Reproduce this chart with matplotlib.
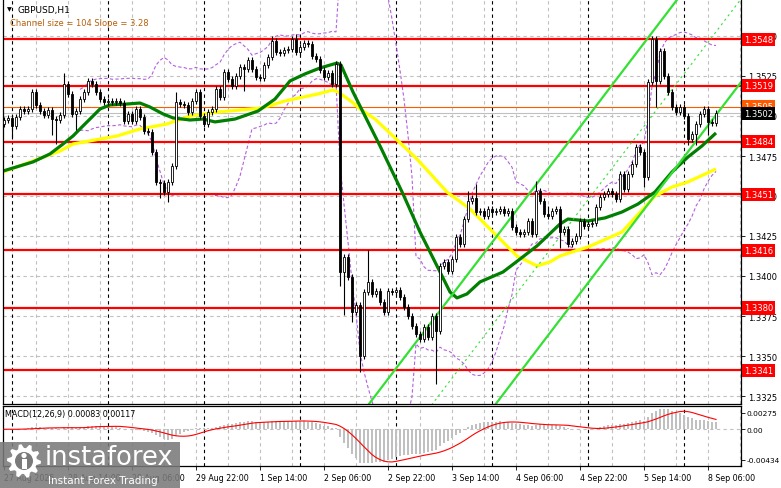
import numpy as np
import pandas as pd
import matplotlib
matplotlib.use("Agg")
import matplotlib.pyplot as plt
import matplotlib.transforms as mtransforms
from matplotlib.patches import Rectangle, Polygon, Circle

W, H = 781, 489

# bar index 0 = 28 Aug 00:00, one bar per hour (H1); first bar is 27 Aug 22:00
first_bar = -2
first_open = 1.34950
close = [
    1.34975, 1.34988, 1.34938, 1.34994, 1.35044, 1.35031, 1.35044, 1.35150, 1.35069, 1.35031,
    1.35006, 1.35038, 1.34981, 1.34975, 1.35006, 1.35200, 1.35138, 1.35013, 1.35031, 1.35106,
    1.35150, 1.35219, 1.35200, 1.35150, 1.35106, 1.35088, 1.35094, 1.35088, 1.35094, 1.35081,
    1.34969, 1.35013, 1.34969, 1.35044, 1.34994, 1.34906, 1.34900, 1.34775, 1.34588, 1.34580,
    1.34525, 1.34588, 1.34688, 1.35088, 1.35075, 1.35069, 1.35025, 1.35094, 1.35150, 1.35000,
    1.34950, 1.35025, 1.35044, 1.35169, 1.35119, 1.35275, 1.35231, 1.35188, 1.35250, 1.35306,
    1.35294, 1.35350, 1.35294, 1.35244, 1.35238, 1.35319, 1.35369, 1.35469, 1.35400, 1.35394,
    1.35413, 1.35419, 1.35481, 1.35400, 1.35431, 1.35456, 1.35450, 1.35375, 1.35356, 1.35288,
    1.35244, 1.35269, 1.35200, 1.35325, 1.34025, 1.34119, 1.33994, 1.33775, 1.33819, 1.33500,
    1.33900, 1.33963, 1.33888, 1.33906, 1.33838, 1.33775, 1.33906, 1.33900, 1.33910, 1.33869,
    1.33806, 1.33750, 1.33688, 1.33638, 1.33606, 1.33681, 1.33619, 1.33750, 1.33656, 1.34063,
    1.34088, 1.34031, 1.34106, 1.34244, 1.34200, 1.34356, 1.34469, 1.34488, 1.34400, 1.34406,
    1.34375, 1.34419, 1.34400, 1.34405, 1.34419, 1.34394, 1.34406, 1.34306, 1.34275, 1.34263,
    1.34275, 1.34344, 1.34263, 1.34531, 1.34469, 1.34388, 1.34375, 1.34406, 1.34419, 1.34275,
    1.34294, 1.34200, 1.34219, 1.34250, 1.34344, 1.34313, 1.34325, 1.34331, 1.34431, 1.34494,
    1.34513, 1.34531, 1.34513, 1.34481, 1.34638, 1.34544, 1.34638, 1.34700, 1.34806, 1.34775,
    1.34619, 1.35213, 1.35481, 1.35219, 1.35406, 1.35250, 1.35150, 1.35056, 1.35025, 1.35056,
    1.35000, 1.34856, 1.34888, 1.34950, 1.35013, 1.35044, 1.34963, 1.34956, 1.35019,
]
# wick lengths beyond the body, in pips
up_wick = [
    2, 2, 2, 2, 2, 2, 2, 2, 2, 2,   2, 2, 2, 2, 2, 7, 2, 2, 2, 2,
    2, 2, 2, 2, 2, 2, 2, 2, 2, 2,   2, 2, 2, 2, 2, 2, 2, 2, 2, 2,
    2, 2, 2, 6, 2, 2, 2, 2, 2, 2,   2, 2, 2, 2, 2, 2, 2, 2, 2, 2,
    2, 2, 2, 2, 2, 2, 2, 3, 2, 2,   2, 2, 2, 3, 2, 2, 2, 2, 2, 2,
    2, 2, 2, 2, 2, 2, 2, 2, 2, 2,   2, 20, 2, 2, 2, 2, 2, 2, 2, 2,
    2, 2, 2, 2, 2, 2, 2, 2, 2, 2,   2, 2, 2, 2, 2, 2, 6, 2, 9, 2,
    2, 2, 2, 2, 2, 2, 2, 2, 2, 2,   2, 2, 2, 6, 2, 2, 5, 2, 2, 2,
    2, 2, 2, 2, 2, 2, 2, 2, 2, 2,   2, 2, 2, 2, 2, 2, 2, 2, 2, 2,
    2, 2, 2, 2, 2, 2, 2, 2, 2, 2,   2, 2, 2, 2, 2, 2, 2, 2, 2,
]
dn_wick = [
    2, 2, 8, 2, 2, 2, 2, 2, 2, 2,   2, 2, 10, 15, 2, 2, 2, 2, 10, 2,
    2, 2, 2, 2, 2, 2, 2, 2, 2, 2,   2, 2, 2, 2, 2, 2, 2, 2, 2, 9,
    2, 6, 2, 2, 2, 2, 2, 2, 2, 2,   2, 2, 2, 2, 2, 2, 2, 2, 2, 2,
    14, 2, 2, 2, 2, 2, 2, 2, 2, 2,  2, 2, 2, 2, 2, 2, 2, 2, 2, 2,
    2, 2, 2, 2, 9, 27, 2, 6, 2, 10, 2, 2, 2, 2, 2, 2, 2, 2, 2, 2,
    2, 2, 2, 2, 2, 2, 2, 2, 33, 2,  2, 2, 2, 2, 2, 2, 2, 2, 2, 2,
    2, 2, 2, 2, 2, 2, 2, 2, 2, 2,   2, 2, 2, 2, 2, 2, 2, 2, 2, 10,
    2, 2, 2, 2, 2, 2, 2, 2, 2, 2,   2, 2, 2, 2, 2, 2, 2, 2, 2, 2,
    6, 2, 2, 16, 2, 2, 2, 2, 2, 2,  2, 4, 2, 7, 2, 2, 8, 2, 2,
]

# moving averages (bar index, price)
green_k = [-2.25, 5.25, 9.5, 12.75, 15.25, 17.75, 20.25, 22, 24.5, 28.75, 32, 34.5, 37.75,
           40.25, 44.5, 47.75, 50.75, 55.75, 61.5, 65.75, 69.5, 73.25, 77, 81.25, 82.25,
           85.25, 88.25, 92, 97.75, 102, 106.25, 109.5, 111.25, 113.75, 117, 122.75, 127,
           131.25, 137, 139, 144, 148.25, 152.5, 156.5, 160.75, 165, 169, 172.5, 176]
green_p = [1.34656, 1.34713, 1.34763, 1.34825, 1.34875, 1.34938, 1.35000, 1.35044, 1.35069,
           1.35075, 1.35081, 1.35056, 1.35013, 1.34988, 1.34975, 1.34981, 1.34963, 1.34981,
           1.35031, 1.35106, 1.35219, 1.35263, 1.35300, 1.35331, 1.35319, 1.35150, 1.35000,
           1.34813, 1.34513, 1.34275, 1.34063, 1.33900, 1.33863, 1.33888, 1.33963, 1.34025,
           1.34106, 1.34188, 1.34325, 1.34356, 1.34344, 1.34363, 1.34400, 1.34450, 1.34525,
           1.34650, 1.34744, 1.34813, 1.34894]
yellow_k = [-2.25, 5.25, 12, 15.25, 22, 26.25, 32, 38.75, 44.5, 51.5, 62.5, 68.25, 76.5,
            80.25, 81.5, 85, 87, 90.75, 95.25, 101.25, 108.75, 114.5, 121.25, 126.25,
            131.25, 134.5, 137, 140.75, 144, 152.5, 160.75, 165, 169, 176]
yellow_p = [1.34650, 1.34719, 1.34781, 1.34825, 1.34856, 1.34875, 1.34919, 1.34950, 1.35000,
            1.35025, 1.35050, 1.35094, 1.35138, 1.35163, 1.35150, 1.35088, 1.35044, 1.34981,
            1.34875, 1.34731, 1.34525, 1.34419, 1.34250, 1.34125, 1.34063, 1.34088, 1.34125,
            1.34156, 1.34181, 1.34275, 1.34500, 1.34556, 1.34588, 1.34669]

levels = [1.3548, 1.3519, 1.3484, 1.3451, 1.3416, 1.3380, 1.3341]
ask_price = 1.3505
bid_price = 1.3502
price_ticks = [1.3325, 1.3350, 1.3375, 1.3400, 1.3425, 1.3450, 1.3475, 1.3500, 1.3525, 1.3550]
macd_max, macd_min = 0.00275, -0.00434

# regression channel: size and slope in pips, anchored on the upper line
chan_size = 104
chan_slope = 3.28
chan_anchor_k = 126
chan_anchor_upper = 1.34406
chan_from, chan_to = 80, 190

time_k = [-2, 14, 30, 46, 62, 78, 94, 110, 126, 142, 158, 174]
time_labels = ["27 Aug 2025", "28 Aug 14:00", "29 Aug 06:00", "29 Aug 22:00", "1 Sep 14:00",
               "2 Sep 06:00", "2 Sep 22:00", "3 Sep 14:00", "4 Sep 06:00", "4 Sep 22:00",
               "5 Sep 14:00", "8 Sep 06:00"]
day_k = [0, 24, 48, 72, 96, 120, 144, 168]

# ---- derived series
c = np.array(close)
o = np.concatenate([[first_open], c[:-1]])
k = np.arange(first_bar, first_bar + len(c))
hi = np.maximum(o, c) + np.array(up_wick) * 0.0001
lo = np.minimum(o, c) - np.array(dn_wick) * 0.0001

s = pd.Series(c)
bb_mid = s.rolling(20).mean()
bb_std = s.rolling(20).std(ddof=0)
bb_up = bb_mid + 2 * bb_std
bb_dn = bb_mid - 2 * bb_std

macd = s.ewm(span=12, adjust=False).mean() - s.ewm(span=26, adjust=False).mean()
signal = macd.rolling(9, min_periods=1).mean()

# ---- figure
fig = plt.figure(figsize=(W / 100, H / 100), dpi=100)
fig.patch.set_facecolor("white")
plt.rcParams["font.family"] = "DejaVu Sans"


def box(x0, y0, x1, y1):
    return [x0 / W, 1 - y1 / H, (x1 - x0) / W, (y1 - y0) / H]


ax = fig.add_axes(box(3, 0, 741, 405))
axm = fig.add_axes(box(3, 407, 741, 467), sharex=ax)

grid_col = "#c0c0c0"
dash = (0, (3, 3))
for a in (ax, axm):
    for gk in np.arange(6, 184, 8):
        a.axvline(gk, color=grid_col, lw=0.8, ls=dash, zorder=0)
    for dk in day_k:
        a.axvline(dk, color="black", lw=0.8, ls=dash, zorder=0.5)
for pt in price_ticks:
    ax.axhline(pt, color=grid_col, lw=0.8, ls=dash, zorder=0)
axm.axhline(0, color=grid_col, lw=0.8, ls=dash, zorder=0)

# bands
ax.plot(k, bb_up, color="#b45fe0", lw=0.8, ls=(0, (3, 2)), zorder=1)
ax.plot(k, bb_dn, color="#b45fe0", lw=0.8, ls=(0, (3, 2)), zorder=1)

# levels
for lv in levels:
    ax.axhline(lv, color="#ff0000", lw=1.6, zorder=1.5)
ax.axhline(ask_price + 0.00006, color="#ff5a00", lw=0.8, zorder=1.4)
ax.axhline(bid_price, color="#c0c0c0", lw=0.8, zorder=1.4)

# moving averages
ax.plot(yellow_k, yellow_p, color="#ffff00", lw=2.3, zorder=2, solid_capstyle="butt")
ax.plot(green_k, green_p, color="#007f00", lw=2.3, zorder=2.1, solid_capstyle="butt")

# regression channel
ck = np.array([chan_from, chan_to])
upper = chan_anchor_upper + (ck - chan_anchor_k) * chan_slope * 0.0001
lower = upper - chan_size * 0.0001
mid = upper - chan_size * 0.0001 / 2
ax.plot(ck, upper, color="#33e033", lw=1.6, zorder=2.2)
ax.plot(ck, lower, color="#33e033", lw=1.6, zorder=2.2)
ax.plot(ck, mid, color="#33e033", lw=0.8, ls=(0, (2, 3)), zorder=2.2)

# candles
bull = c >= o
ax.vlines(k, lo, hi, color="black", lw=0.8, zorder=3)
body_h = np.maximum(np.abs(c - o), 0.00002)
ax.bar(k[bull], body_h[bull], bottom=np.minimum(o, c)[bull], width=0.72,
       color="white", edgecolor="black", lw=0.6, zorder=4)
ax.bar(k[~bull], body_h[~bull], bottom=np.minimum(o, c)[~bull], width=0.72,
       color="black", edgecolor="black", lw=0.6, zorder=4)

ax.set_xlim(-2.25, 182.25)
ax.set_ylim(1.3320, 1.3573125)
ax.yaxis.tick_right()
ax.set_yticks(price_ticks)
ax.set_yticklabels([f"{p:.4f}" for p in price_ticks])
ax.tick_params(axis="y", length=3, pad=2, labelsize=6, width=0.6)
ax.tick_params(axis="x", length=0, labelbottom=False)
ax.spines["top"].set_visible(False)
for sp in ("left", "right", "bottom"):
    ax.spines[sp].set_linewidth(0.9)

tr = mtransforms.blended_transform_factory(ax.transAxes, ax.transData)
for lv in levels:
    ax.text(1.004, lv, f"{lv:.4f}", transform=tr, ha="left", va="center", fontsize=6,
            color="white", clip_on=False, zorder=10,
            bbox=dict(boxstyle="square,pad=0.25", fc="#ff0000", ec="none"))
ax.text(1.004, ask_price + 0.00010, f"{ask_price:.4f}", transform=tr, ha="left", va="center",
        fontsize=6, color="white", clip_on=False, zorder=10,
        bbox=dict(boxstyle="square,pad=0.25", fc="#ff5a00", ec="none"))
ax.text(1.004, bid_price - 0.00005, f"{bid_price:.4f}", transform=tr, ha="left", va="center",
        fontsize=6, color="white", clip_on=False, zorder=11,
        bbox=dict(boxstyle="square,pad=0.25", fc="black", ec="none"))

# MACD: window scaled between its max and min, labels sit just inside the edges
axm.bar(k, macd, width=0.6, color="#c0c0c0", zorder=2)
axm.plot(k, signal, color="#ff0000", lw=0.8, zorder=3)
axm.set_ylim(macd_min, macd_max)
axm.yaxis.tick_right()
span = macd_max - macd_min
axm.set_yticks([macd_max - 0.11 * span, 0.0, macd_min + 0.1 * span])
axm.set_yticklabels([f"{macd_max:.5f}", "0.00", f"{macd_min:.5f}"])
axm.tick_params(axis="y", length=3, pad=1, labelsize=5.4, width=0.6)
axm.set_xticks(time_k)
axm.set_xticklabels(time_labels, ha="left")
axm.tick_params(axis="x", length=3, pad=2, labelsize=5.7, width=0.6)
for sp in axm.spines.values():
    sp.set_linewidth(0.9)
axm.text(0.003, 0.88, "MACD(12,26,9) 0.00083 0.00117", transform=axm.transAxes,
         fontsize=5.8, va="center", ha="left")

# header and watermark in pixel coordinates
ov = fig.add_axes([0, 0, 1, 1], zorder=20)
ov.set_xlim(0, W)
ov.set_ylim(H, 0)
ov.axis("off")
ov.patch.set_alpha(0)
ov.text(7, 10, "\u25bc", fontsize=4.5, va="center", ha="left")
ov.text(18, 10, "GBPUSD,H1", fontsize=6.5, va="center", ha="left")
ov.text(10, 24, "Channel size = 104 Slope = 3.28", fontsize=6, va="center", ha="left",
        color="#b8600b")

ov.add_patch(Rectangle((0, 443), 180, 46, fc="#7a7a7a", ec="none", alpha=0.88))
ang = np.linspace(0, 2 * np.pi, 40, endpoint=False)
rad = np.where((np.arange(40) // 2) % 2 == 0, 17, 13)
ov.add_patch(Polygon(np.c_[24 + rad * np.cos(ang), 462 + rad * np.sin(ang)],
                     closed=True, fc="white", ec="none"))
ov.add_patch(Circle((24, 462), 9, fc="#7a7a7a", ec="none"))
ov.add_patch(Circle((24, 456.5), 2.6, fc="white", ec="none"))
ov.add_patch(Rectangle((21.5, 460), 5, 10, fc="white", ec="none"))
ov.text(45, 458, "instaforex", fontsize=18.5, color="white", va="center", ha="left")
ov.text(48, 481, "Instant Forex Trading", fontsize=7.5, color="white", va="center", ha="left")

fig.savefig("out.png", dpi=100)
